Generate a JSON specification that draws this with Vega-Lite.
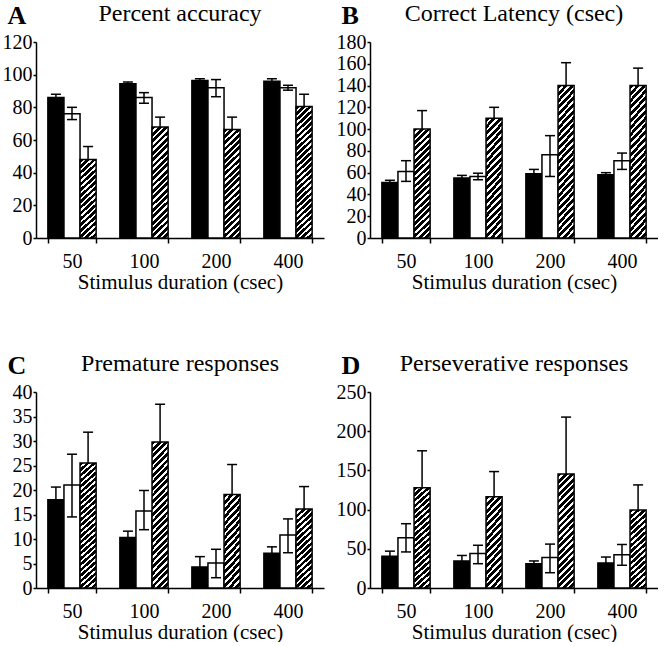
{
  "$schema": "https://vega.github.io/schema/vega-lite/v6.json",
  "background": "white",
  "padding": {"left": 2, "top": 2, "right": 0, "bottom": 0},
  "params": [
    {"name": "hatchS", "value": {"gradient": "linear", "x1": 0, "y1": 0, "x2": 0.216, "y2": 1.1476, "stops": [
      {"offset": 0, "color": "black"}, {"offset": 0.0375, "color": "black"}, {"offset": 0.0375, "color": "white"}, {"offset": 0.0625, "color": "white"},
      {"offset": 0.0625, "color": "black"}, {"offset": 0.1, "color": "black"}, {"offset": 0.1, "color": "white"}, {"offset": 0.125, "color": "white"},
      {"offset": 0.125, "color": "black"}, {"offset": 0.1625, "color": "black"}, {"offset": 0.1625, "color": "white"}, {"offset": 0.1875, "color": "white"},
      {"offset": 0.1875, "color": "black"}, {"offset": 0.225, "color": "black"}, {"offset": 0.225, "color": "white"}, {"offset": 0.25, "color": "white"},
      {"offset": 0.25, "color": "black"}, {"offset": 0.2875, "color": "black"}, {"offset": 0.2875, "color": "white"}, {"offset": 0.3125, "color": "white"},
      {"offset": 0.3125, "color": "black"}, {"offset": 0.35, "color": "black"}, {"offset": 0.35, "color": "white"}, {"offset": 0.375, "color": "white"},
      {"offset": 0.375, "color": "black"}, {"offset": 0.4125, "color": "black"}, {"offset": 0.4125, "color": "white"}, {"offset": 0.4375, "color": "white"},
      {"offset": 0.4375, "color": "black"}, {"offset": 0.475, "color": "black"}, {"offset": 0.475, "color": "white"}, {"offset": 0.5, "color": "white"},
      {"offset": 0.5, "color": "black"}, {"offset": 0.5375, "color": "black"}, {"offset": 0.5375, "color": "white"}, {"offset": 0.5625, "color": "white"},
      {"offset": 0.5625, "color": "black"}, {"offset": 0.6, "color": "black"}, {"offset": 0.6, "color": "white"}, {"offset": 0.625, "color": "white"},
      {"offset": 0.625, "color": "black"}, {"offset": 0.6625, "color": "black"}, {"offset": 0.6625, "color": "white"}, {"offset": 0.6875, "color": "white"},
      {"offset": 0.6875, "color": "black"}, {"offset": 0.725, "color": "black"}, {"offset": 0.725, "color": "white"}, {"offset": 0.75, "color": "white"},
      {"offset": 0.75, "color": "black"}, {"offset": 0.7875, "color": "black"}, {"offset": 0.7875, "color": "white"}, {"offset": 0.8125, "color": "white"},
      {"offset": 0.8125, "color": "black"}, {"offset": 0.85, "color": "black"}, {"offset": 0.85, "color": "white"}, {"offset": 0.875, "color": "white"},
      {"offset": 0.875, "color": "black"}, {"offset": 0.9125, "color": "black"}, {"offset": 0.9125, "color": "white"}, {"offset": 0.9375, "color": "white"},
      {"offset": 0.9375, "color": "black"}, {"offset": 0.975, "color": "black"}, {"offset": 0.975, "color": "white"}, {"offset": 1, "color": "white"}
    ]}},
    {"name": "hatchM", "value": {"gradient": "linear", "x1": 0, "y1": 0, "x2": 0.16, "y2": 1.12, "stops": [
      {"offset": 0, "color": "black"}, {"offset": 0.03, "color": "black"}, {"offset": 0.03, "color": "white"}, {"offset": 0.05, "color": "white"},
      {"offset": 0.05, "color": "black"}, {"offset": 0.08, "color": "black"}, {"offset": 0.08, "color": "white"}, {"offset": 0.1, "color": "white"},
      {"offset": 0.1, "color": "black"}, {"offset": 0.13, "color": "black"}, {"offset": 0.13, "color": "white"}, {"offset": 0.15, "color": "white"},
      {"offset": 0.15, "color": "black"}, {"offset": 0.18, "color": "black"}, {"offset": 0.18, "color": "white"}, {"offset": 0.2, "color": "white"},
      {"offset": 0.2, "color": "black"}, {"offset": 0.23, "color": "black"}, {"offset": 0.23, "color": "white"}, {"offset": 0.25, "color": "white"},
      {"offset": 0.25, "color": "black"}, {"offset": 0.28, "color": "black"}, {"offset": 0.28, "color": "white"}, {"offset": 0.3, "color": "white"},
      {"offset": 0.3, "color": "black"}, {"offset": 0.33, "color": "black"}, {"offset": 0.33, "color": "white"}, {"offset": 0.35, "color": "white"},
      {"offset": 0.35, "color": "black"}, {"offset": 0.38, "color": "black"}, {"offset": 0.38, "color": "white"}, {"offset": 0.4, "color": "white"},
      {"offset": 0.4, "color": "black"}, {"offset": 0.43, "color": "black"}, {"offset": 0.43, "color": "white"}, {"offset": 0.45, "color": "white"},
      {"offset": 0.45, "color": "black"}, {"offset": 0.48, "color": "black"}, {"offset": 0.48, "color": "white"}, {"offset": 0.5, "color": "white"},
      {"offset": 0.5, "color": "black"}, {"offset": 0.53, "color": "black"}, {"offset": 0.53, "color": "white"}, {"offset": 0.55, "color": "white"},
      {"offset": 0.55, "color": "black"}, {"offset": 0.58, "color": "black"}, {"offset": 0.58, "color": "white"}, {"offset": 0.6, "color": "white"},
      {"offset": 0.6, "color": "black"}, {"offset": 0.63, "color": "black"}, {"offset": 0.63, "color": "white"}, {"offset": 0.65, "color": "white"},
      {"offset": 0.65, "color": "black"}, {"offset": 0.68, "color": "black"}, {"offset": 0.68, "color": "white"}, {"offset": 0.7, "color": "white"},
      {"offset": 0.7, "color": "black"}, {"offset": 0.73, "color": "black"}, {"offset": 0.73, "color": "white"}, {"offset": 0.75, "color": "white"},
      {"offset": 0.75, "color": "black"}, {"offset": 0.78, "color": "black"}, {"offset": 0.78, "color": "white"}, {"offset": 0.8, "color": "white"},
      {"offset": 0.8, "color": "black"}, {"offset": 0.83, "color": "black"}, {"offset": 0.83, "color": "white"}, {"offset": 0.85, "color": "white"},
      {"offset": 0.85, "color": "black"}, {"offset": 0.88, "color": "black"}, {"offset": 0.88, "color": "white"}, {"offset": 0.9, "color": "white"},
      {"offset": 0.9, "color": "black"}, {"offset": 0.93, "color": "black"}, {"offset": 0.93, "color": "white"}, {"offset": 0.95, "color": "white"},
      {"offset": 0.95, "color": "black"}, {"offset": 0.98, "color": "black"}, {"offset": 0.98, "color": "white"}, {"offset": 1, "color": "white"}
    ]}},
    {"name": "hatchL", "value": {"gradient": "linear", "x1": 0, "y1": 0, "x2": 0.1257, "y2": 1.1, "stops": [
      {"offset": 0, "color": "black"}, {"offset": 0.024, "color": "black"}, {"offset": 0.024, "color": "white"}, {"offset": 0.04, "color": "white"},
      {"offset": 0.04, "color": "black"}, {"offset": 0.064, "color": "black"}, {"offset": 0.064, "color": "white"}, {"offset": 0.08, "color": "white"},
      {"offset": 0.08, "color": "black"}, {"offset": 0.104, "color": "black"}, {"offset": 0.104, "color": "white"}, {"offset": 0.12, "color": "white"},
      {"offset": 0.12, "color": "black"}, {"offset": 0.144, "color": "black"}, {"offset": 0.144, "color": "white"}, {"offset": 0.16, "color": "white"},
      {"offset": 0.16, "color": "black"}, {"offset": 0.184, "color": "black"}, {"offset": 0.184, "color": "white"}, {"offset": 0.2, "color": "white"},
      {"offset": 0.2, "color": "black"}, {"offset": 0.224, "color": "black"}, {"offset": 0.224, "color": "white"}, {"offset": 0.24, "color": "white"},
      {"offset": 0.24, "color": "black"}, {"offset": 0.264, "color": "black"}, {"offset": 0.264, "color": "white"}, {"offset": 0.28, "color": "white"},
      {"offset": 0.28, "color": "black"}, {"offset": 0.304, "color": "black"}, {"offset": 0.304, "color": "white"}, {"offset": 0.32, "color": "white"},
      {"offset": 0.32, "color": "black"}, {"offset": 0.344, "color": "black"}, {"offset": 0.344, "color": "white"}, {"offset": 0.36, "color": "white"},
      {"offset": 0.36, "color": "black"}, {"offset": 0.384, "color": "black"}, {"offset": 0.384, "color": "white"}, {"offset": 0.4, "color": "white"},
      {"offset": 0.4, "color": "black"}, {"offset": 0.424, "color": "black"}, {"offset": 0.424, "color": "white"}, {"offset": 0.44, "color": "white"},
      {"offset": 0.44, "color": "black"}, {"offset": 0.464, "color": "black"}, {"offset": 0.464, "color": "white"}, {"offset": 0.48, "color": "white"},
      {"offset": 0.48, "color": "black"}, {"offset": 0.504, "color": "black"}, {"offset": 0.504, "color": "white"}, {"offset": 0.52, "color": "white"},
      {"offset": 0.52, "color": "black"}, {"offset": 0.544, "color": "black"}, {"offset": 0.544, "color": "white"}, {"offset": 0.56, "color": "white"},
      {"offset": 0.56, "color": "black"}, {"offset": 0.584, "color": "black"}, {"offset": 0.584, "color": "white"}, {"offset": 0.6, "color": "white"},
      {"offset": 0.6, "color": "black"}, {"offset": 0.624, "color": "black"}, {"offset": 0.624, "color": "white"}, {"offset": 0.64, "color": "white"},
      {"offset": 0.64, "color": "black"}, {"offset": 0.664, "color": "black"}, {"offset": 0.664, "color": "white"}, {"offset": 0.68, "color": "white"},
      {"offset": 0.68, "color": "black"}, {"offset": 0.704, "color": "black"}, {"offset": 0.704, "color": "white"}, {"offset": 0.72, "color": "white"},
      {"offset": 0.72, "color": "black"}, {"offset": 0.744, "color": "black"}, {"offset": 0.744, "color": "white"}, {"offset": 0.76, "color": "white"},
      {"offset": 0.76, "color": "black"}, {"offset": 0.784, "color": "black"}, {"offset": 0.784, "color": "white"}, {"offset": 0.8, "color": "white"},
      {"offset": 0.8, "color": "black"}, {"offset": 0.824, "color": "black"}, {"offset": 0.824, "color": "white"}, {"offset": 0.84, "color": "white"},
      {"offset": 0.84, "color": "black"}, {"offset": 0.864, "color": "black"}, {"offset": 0.864, "color": "white"}, {"offset": 0.88, "color": "white"},
      {"offset": 0.88, "color": "black"}, {"offset": 0.904, "color": "black"}, {"offset": 0.904, "color": "white"}, {"offset": 0.92, "color": "white"},
      {"offset": 0.92, "color": "black"}, {"offset": 0.944, "color": "black"}, {"offset": 0.944, "color": "white"}, {"offset": 0.96, "color": "white"},
      {"offset": 0.96, "color": "black"}, {"offset": 0.984, "color": "black"}, {"offset": 0.984, "color": "white"}, {"offset": 1, "color": "white"}
    ]}}
  ],
  "data": {
    "values": [
      {"panel": "A", "dur": 50, "group": "black", "v": 86, "lo": 86, "hi": 88},
      {"panel": "A", "dur": 50, "group": "white", "v": 76, "lo": 72.5, "hi": 80},
      {"panel": "A", "dur": 50, "group": "hatched", "v": 48, "lo": 48, "hi": 56},
      {"panel": "A", "dur": 100, "group": "black", "v": 94.5, "lo": 94.5, "hi": 95.5},
      {"panel": "A", "dur": 100, "group": "white", "v": 86, "lo": 82.5, "hi": 89},
      {"panel": "A", "dur": 100, "group": "hatched", "v": 68, "lo": 68, "hi": 74},
      {"panel": "A", "dur": 200, "group": "black", "v": 96.5, "lo": 96.5, "hi": 97.5},
      {"panel": "A", "dur": 200, "group": "white", "v": 92, "lo": 86.5, "hi": 97},
      {"panel": "A", "dur": 200, "group": "hatched", "v": 66.5, "lo": 66.5, "hi": 74},
      {"panel": "A", "dur": 400, "group": "black", "v": 96, "lo": 96, "hi": 97.5},
      {"panel": "A", "dur": 400, "group": "white", "v": 92, "lo": 90.5, "hi": 93.5},
      {"panel": "A", "dur": 400, "group": "hatched", "v": 80.5, "lo": 80.5, "hi": 88},
      {"panel": "B", "dur": 50, "group": "black", "v": 51, "lo": 51, "hi": 53},
      {"panel": "B", "dur": 50, "group": "white", "v": 61, "lo": 52, "hi": 71},
      {"panel": "B", "dur": 50, "group": "hatched", "v": 100, "lo": 100, "hi": 117},
      {"panel": "B", "dur": 100, "group": "black", "v": 55, "lo": 55, "hi": 57.5},
      {"panel": "B", "dur": 100, "group": "white", "v": 56.5, "lo": 53.5, "hi": 59.5},
      {"panel": "B", "dur": 100, "group": "hatched", "v": 110, "lo": 110, "hi": 120},
      {"panel": "B", "dur": 200, "group": "black", "v": 59, "lo": 59, "hi": 63},
      {"panel": "B", "dur": 200, "group": "white", "v": 76.5, "lo": 56.5, "hi": 94},
      {"panel": "B", "dur": 200, "group": "hatched", "v": 140, "lo": 140, "hi": 161},
      {"panel": "B", "dur": 400, "group": "black", "v": 58, "lo": 58, "hi": 60},
      {"panel": "B", "dur": 400, "group": "white", "v": 71, "lo": 63, "hi": 78},
      {"panel": "B", "dur": 400, "group": "hatched", "v": 140, "lo": 140, "hi": 156},
      {"panel": "C", "dur": 50, "group": "black", "v": 18, "lo": 18, "hi": 20.6},
      {"panel": "C", "dur": 50, "group": "white", "v": 21, "lo": 14.5, "hi": 27.3},
      {"panel": "C", "dur": 50, "group": "hatched", "v": 25.5, "lo": 25.5, "hi": 31.8},
      {"panel": "C", "dur": 100, "group": "black", "v": 10.3, "lo": 10.3, "hi": 11.6},
      {"panel": "C", "dur": 100, "group": "white", "v": 15.7, "lo": 11.9, "hi": 19.9},
      {"panel": "C", "dur": 100, "group": "hatched", "v": 29.8, "lo": 29.8, "hi": 37.5},
      {"panel": "C", "dur": 200, "group": "black", "v": 4.3, "lo": 4.3, "hi": 6.4},
      {"panel": "C", "dur": 200, "group": "white", "v": 5.1, "lo": 2.1, "hi": 7.9},
      {"panel": "C", "dur": 200, "group": "hatched", "v": 19.1, "lo": 19.1, "hi": 25.2},
      {"panel": "C", "dur": 400, "group": "black", "v": 7.1, "lo": 7.1, "hi": 8.4},
      {"panel": "C", "dur": 400, "group": "white", "v": 10.8, "lo": 7.2, "hi": 14.1},
      {"panel": "C", "dur": 400, "group": "hatched", "v": 16.1, "lo": 16.1, "hi": 20.7},
      {"panel": "D", "dur": 50, "group": "black", "v": 40.5, "lo": 40.5, "hi": 47},
      {"panel": "D", "dur": 50, "group": "white", "v": 64, "lo": 46, "hi": 82},
      {"panel": "D", "dur": 50, "group": "hatched", "v": 128, "lo": 128, "hi": 175},
      {"panel": "D", "dur": 100, "group": "black", "v": 34.5, "lo": 34.5, "hi": 41.5},
      {"panel": "D", "dur": 100, "group": "white", "v": 44, "lo": 31, "hi": 54.5},
      {"panel": "D", "dur": 100, "group": "hatched", "v": 116.5, "lo": 116.5, "hi": 148.5},
      {"panel": "D", "dur": 200, "group": "black", "v": 31, "lo": 31, "hi": 34.5},
      {"panel": "D", "dur": 200, "group": "white", "v": 39, "lo": 19.5, "hi": 56},
      {"panel": "D", "dur": 200, "group": "hatched", "v": 145.5, "lo": 145.5, "hi": 218},
      {"panel": "D", "dur": 400, "group": "black", "v": 32, "lo": 32, "hi": 39.5},
      {"panel": "D", "dur": 400, "group": "white", "v": 42.5, "lo": 29, "hi": 55.5},
      {"panel": "D", "dur": 400, "group": "hatched", "v": 99.5, "lo": 99.5, "hi": 131.5}
    ]
  },
  "columns": 2,
  "spacing": {"row": 60, "column": 12},
  "concat": [
    {
      "title": "Percent accuracy",
      "width": 288,
      "height": 196,
      "transform": [{"filter": "datum.panel == 'A'"}],
      "encoding": {
        "x": {"field": "dur", "type": "ordinal", "scale": {"paddingInner": 0.33, "paddingOuter": 0.165}, "axis": {"title": "Stimulus duration (csec)"}},
        "xOffset": {"field": "group", "type": "nominal", "sort": ["black", "white", "hatched"], "scale": {"paddingInner": 0, "paddingOuter": 0}}
      },
      "layer": [
        {"transform": [{"filter": "datum.group == 'black'"}], "mark": {"type": "bar", "fill": "black", "stroke": "black", "strokeWidth": 1.5},
         "encoding": {"y": {"field": "v", "type": "quantitative", "scale": {"domain": [0, 120], "nice": false}, "axis": {"title": "A", "values": [0, 20, 40, 60, 80, 100, 120]}}}},
        {"transform": [{"filter": "datum.group == 'white'"}], "mark": {"type": "bar", "fill": "white", "stroke": "black", "strokeWidth": 1.5},
         "encoding": {"y": {"field": "v", "type": "quantitative", "axis": {"title": "A", "values": [0, 20, 40, 60, 80, 100, 120]}}}},
        {"transform": [{"filter": "datum.group == 'hatched' && datum.v < 59"}], "mark": {"type": "bar", "fill": {"expr": "hatchS"}, "stroke": "black", "strokeWidth": 1.5},
         "encoding": {"y": {"field": "v", "type": "quantitative", "axis": {"title": "A", "values": [0, 20, 40, 60, 80, 100, 120]}}}},
        {"transform": [{"filter": "datum.group == 'hatched' && datum.v >= 59 && datum.v < 76"}], "mark": {"type": "bar", "fill": {"expr": "hatchM"}, "stroke": "black", "strokeWidth": 1.5},
         "encoding": {"y": {"field": "v", "type": "quantitative", "axis": {"title": "A", "values": [0, 20, 40, 60, 80, 100, 120]}}}},
        {"transform": [{"filter": "datum.group == 'hatched' && datum.v >= 76"}], "mark": {"type": "bar", "fill": {"expr": "hatchL"}, "stroke": "black", "strokeWidth": 1.5},
         "encoding": {"y": {"field": "v", "type": "quantitative", "axis": {"title": "A", "values": [0, 20, 40, 60, 80, 100, 120]}}}},
        {"mark": {"type": "rule", "color": "black", "strokeWidth": 1.5}, "encoding": {"y": {"field": "lo", "type": "quantitative", "axis": {"title": "A", "values": [0, 20, 40, 60, 80, 100, 120]}}, "y2": {"field": "hi"}}},
        {"mark": {"type": "tick", "orient": "horizontal", "color": "black", "size": 10, "thickness": 1.5, "opacity": 1}, "encoding": {"y": {"field": "hi", "type": "quantitative", "axis": {"title": "A", "values": [0, 20, 40, 60, 80, 100, 120]}}}},
        {"transform": [{"filter": "datum.group == 'white'"}], "mark": {"type": "tick", "orient": "horizontal", "color": "black", "size": 10, "thickness": 1.5, "opacity": 1}, "encoding": {"y": {"field": "lo", "type": "quantitative", "axis": {"title": "A", "values": [0, 20, 40, 60, 80, 100, 120]}}}}
      ]
    },
    {
      "title": "Correct Latency (csec)",
      "width": 288,
      "height": 196,
      "transform": [{"filter": "datum.panel == 'B'"}],
      "encoding": {
        "x": {"field": "dur", "type": "ordinal", "scale": {"paddingInner": 0.33, "paddingOuter": 0.165}, "axis": {"title": "Stimulus duration (csec)"}},
        "xOffset": {"field": "group", "type": "nominal", "sort": ["black", "white", "hatched"], "scale": {"paddingInner": 0, "paddingOuter": 0}}
      },
      "layer": [
        {"transform": [{"filter": "datum.group == 'black'"}], "mark": {"type": "bar", "fill": "black", "stroke": "black", "strokeWidth": 1.5},
         "encoding": {"y": {"field": "v", "type": "quantitative", "scale": {"domain": [0, 180], "nice": false}, "axis": {"title": "B", "values": [0, 20, 40, 60, 80, 100, 120, 140, 160, 180]}}}},
        {"transform": [{"filter": "datum.group == 'white'"}], "mark": {"type": "bar", "fill": "white", "stroke": "black", "strokeWidth": 1.5},
         "encoding": {"y": {"field": "v", "type": "quantitative", "axis": {"title": "B", "values": [0, 20, 40, 60, 80, 100, 120, 140, 160, 180]}}}},
        {"transform": [{"filter": "datum.group == 'hatched' && datum.v < 120"}], "mark": {"type": "bar", "fill": {"expr": "hatchM"}, "stroke": "black", "strokeWidth": 1.5},
         "encoding": {"y": {"field": "v", "type": "quantitative", "axis": {"title": "B", "values": [0, 20, 40, 60, 80, 100, 120, 140, 160, 180]}}}},
        {"transform": [{"filter": "datum.group == 'hatched' && datum.v >= 120"}], "mark": {"type": "bar", "fill": {"expr": "hatchL"}, "stroke": "black", "strokeWidth": 1.5},
         "encoding": {"y": {"field": "v", "type": "quantitative", "axis": {"title": "B", "values": [0, 20, 40, 60, 80, 100, 120, 140, 160, 180]}}}},
        {"mark": {"type": "rule", "color": "black", "strokeWidth": 1.5}, "encoding": {"y": {"field": "lo", "type": "quantitative", "axis": {"title": "B", "values": [0, 20, 40, 60, 80, 100, 120, 140, 160, 180]}}, "y2": {"field": "hi"}}},
        {"mark": {"type": "tick", "orient": "horizontal", "color": "black", "size": 10, "thickness": 1.5, "opacity": 1}, "encoding": {"y": {"field": "hi", "type": "quantitative", "axis": {"title": "B", "values": [0, 20, 40, 60, 80, 100, 120, 140, 160, 180]}}}},
        {"transform": [{"filter": "datum.group == 'white'"}], "mark": {"type": "tick", "orient": "horizontal", "color": "black", "size": 10, "thickness": 1.5, "opacity": 1}, "encoding": {"y": {"field": "lo", "type": "quantitative", "axis": {"title": "B", "values": [0, 20, 40, 60, 80, 100, 120, 140, 160, 180]}}}}
      ]
    },
    {
      "title": "Premature responses",
      "width": 288,
      "height": 196,
      "transform": [{"filter": "datum.panel == 'C'"}],
      "encoding": {
        "x": {"field": "dur", "type": "ordinal", "scale": {"paddingInner": 0.33, "paddingOuter": 0.165}, "axis": {"title": "Stimulus duration (csec)"}},
        "xOffset": {"field": "group", "type": "nominal", "sort": ["black", "white", "hatched"], "scale": {"paddingInner": 0, "paddingOuter": 0}}
      },
      "layer": [
        {"transform": [{"filter": "datum.group == 'black'"}], "mark": {"type": "bar", "fill": "black", "stroke": "black", "strokeWidth": 1.5},
         "encoding": {"y": {"field": "v", "type": "quantitative", "scale": {"domain": [0, 40], "nice": false}, "axis": {"title": "C", "values": [0, 5, 10, 15, 20, 25, 30, 35, 40]}}}},
        {"transform": [{"filter": "datum.group == 'white'"}], "mark": {"type": "bar", "fill": "white", "stroke": "black", "strokeWidth": 1.5},
         "encoding": {"y": {"field": "v", "type": "quantitative", "axis": {"title": "C", "values": [0, 5, 10, 15, 20, 25, 30, 35, 40]}}}},
        {"transform": [{"filter": "datum.group == 'hatched' && datum.v < 22"}], "mark": {"type": "bar", "fill": {"expr": "hatchS"}, "stroke": "black", "strokeWidth": 1.5},
         "encoding": {"y": {"field": "v", "type": "quantitative", "axis": {"title": "C", "values": [0, 5, 10, 15, 20, 25, 30, 35, 40]}}}},
        {"transform": [{"filter": "datum.group == 'hatched' && datum.v >= 22"}], "mark": {"type": "bar", "fill": {"expr": "hatchL"}, "stroke": "black", "strokeWidth": 1.5},
         "encoding": {"y": {"field": "v", "type": "quantitative", "axis": {"title": "C", "values": [0, 5, 10, 15, 20, 25, 30, 35, 40]}}}},
        {"mark": {"type": "rule", "color": "black", "strokeWidth": 1.5}, "encoding": {"y": {"field": "lo", "type": "quantitative", "axis": {"title": "C", "values": [0, 5, 10, 15, 20, 25, 30, 35, 40]}}, "y2": {"field": "hi"}}},
        {"mark": {"type": "tick", "orient": "horizontal", "color": "black", "size": 10, "thickness": 1.5, "opacity": 1}, "encoding": {"y": {"field": "hi", "type": "quantitative", "axis": {"title": "C", "values": [0, 5, 10, 15, 20, 25, 30, 35, 40]}}}},
        {"transform": [{"filter": "datum.group == 'white'"}], "mark": {"type": "tick", "orient": "horizontal", "color": "black", "size": 10, "thickness": 1.5, "opacity": 1}, "encoding": {"y": {"field": "lo", "type": "quantitative", "axis": {"title": "C", "values": [0, 5, 10, 15, 20, 25, 30, 35, 40]}}}}
      ]
    },
    {
      "title": "Perseverative responses",
      "width": 288,
      "height": 196,
      "transform": [{"filter": "datum.panel == 'D'"}],
      "encoding": {
        "x": {"field": "dur", "type": "ordinal", "scale": {"paddingInner": 0.33, "paddingOuter": 0.165}, "axis": {"title": "Stimulus duration (csec)"}},
        "xOffset": {"field": "group", "type": "nominal", "sort": ["black", "white", "hatched"], "scale": {"paddingInner": 0, "paddingOuter": 0}}
      },
      "layer": [
        {"transform": [{"filter": "datum.group == 'black'"}], "mark": {"type": "bar", "fill": "black", "stroke": "black", "strokeWidth": 1.5},
         "encoding": {"y": {"field": "v", "type": "quantitative", "scale": {"domain": [0, 250], "nice": false}, "axis": {"title": "D", "values": [0, 50, 100, 150, 200, 250]}}}},
        {"transform": [{"filter": "datum.group == 'white'"}], "mark": {"type": "bar", "fill": "white", "stroke": "black", "strokeWidth": 1.5},
         "encoding": {"y": {"field": "v", "type": "quantitative", "axis": {"title": "D", "values": [0, 50, 100, 150, 200, 250]}}}},
        {"transform": [{"filter": "datum.group == 'hatched' && datum.v < 122"}], "mark": {"type": "bar", "fill": {"expr": "hatchS"}, "stroke": "black", "strokeWidth": 1.5},
         "encoding": {"y": {"field": "v", "type": "quantitative", "axis": {"title": "D", "values": [0, 50, 100, 150, 200, 250]}}}},
        {"transform": [{"filter": "datum.group == 'hatched' && datum.v >= 122"}], "mark": {"type": "bar", "fill": {"expr": "hatchM"}, "stroke": "black", "strokeWidth": 1.5},
         "encoding": {"y": {"field": "v", "type": "quantitative", "axis": {"title": "D", "values": [0, 50, 100, 150, 200, 250]}}}},
        {"mark": {"type": "rule", "color": "black", "strokeWidth": 1.5}, "encoding": {"y": {"field": "lo", "type": "quantitative", "axis": {"title": "D", "values": [0, 50, 100, 150, 200, 250]}}, "y2": {"field": "hi"}}},
        {"mark": {"type": "tick", "orient": "horizontal", "color": "black", "size": 10, "thickness": 1.5, "opacity": 1}, "encoding": {"y": {"field": "hi", "type": "quantitative", "axis": {"title": "D", "values": [0, 50, 100, 150, 200, 250]}}}},
        {"transform": [{"filter": "datum.group == 'white'"}], "mark": {"type": "tick", "orient": "horizontal", "color": "black", "size": 10, "thickness": 1.5, "opacity": 1}, "encoding": {"y": {"field": "lo", "type": "quantitative", "axis": {"title": "D", "values": [0, 50, 100, 150, 200, 250]}}}}
      ]
    }
  ],
  "config": {
    "view": {"stroke": null},
    "font": "Liberation Serif",
    "title": {"font": "Liberation Serif", "fontSize": 24, "fontWeight": "normal", "color": "black", "frame": "group", "anchor": "middle", "baseline": "alphabetic", "offset": 0, "dy": 28},
    "axis": {"grid": false, "domainColor": "black", "domainWidth": 1.5, "tickColor": "black", "tickWidth": 1.5, "labelColor": "black", "labelFont": "Liberation Serif", "labelFontSize": 20, "titleFont": "Liberation Serif", "titleColor": "black", "titleFontWeight": "normal"},
    "axisX": {"tickBand": "extent", "tickSize": 5, "labelPadding": 8, "labelAngle": 0, "titleFontSize": 21, "titlePadding": 0},
    "axisY": {"tickSize": 3, "labelPadding": 1, "labelOverlap": false, "titleFontSize": 26, "titleFontWeight": "bold", "titleAngle": 0, "titleAlign": "left", "titleBaseline": "alphabetic", "titleX": -29, "titleY": -19}
  }
}
